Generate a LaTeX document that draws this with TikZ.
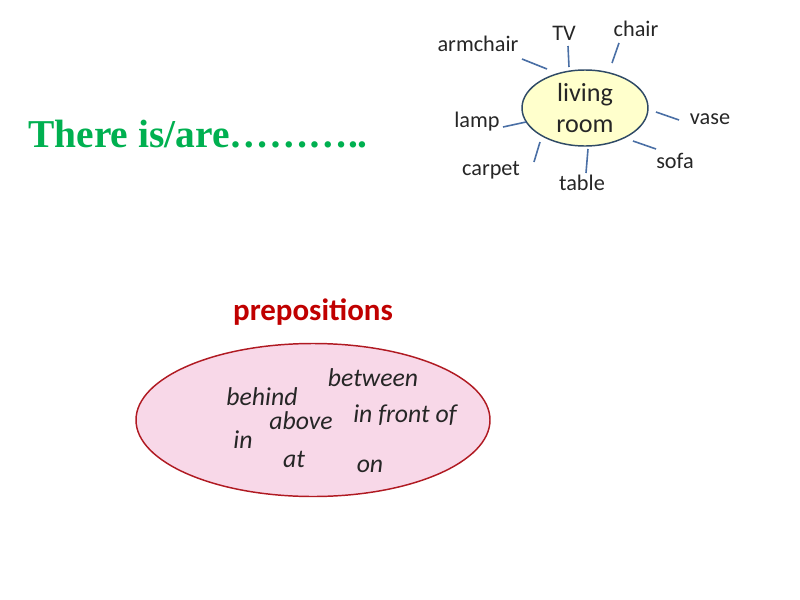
\documentclass[tikz,border=0pt]{standalone}
\usepackage{fontspec}
\setmainfont{Carlito}
\newfontfamily\timesf{Liberation Serif}
\usetikzlibrary{shapes.geometric}
\definecolor{titlegreen}{HTML}{00B050}
\definecolor{prepred}{HTML}{C00000}
\definecolor{spoke}{HTML}{4A6FA5}
\definecolor{lrfill}{HTML}{FFFFCC}
\definecolor{lrdraw}{HTML}{2F4A66}
\definecolor{pkfill}{HTML}{F8D8E8}
\definecolor{pkdraw}{HTML}{B01A22}
\definecolor{txt}{HTML}{262626}
\tikzset{
  lbl/.style={font=\fontsize{16.7}{18}\selectfont, text=txt, inner sep=0pt},
  prep/.style={font=\fontsize{19.3}{21}\selectfont\itshape, text=txt, inner sep=0pt},
  spokeline/.style={draw=spoke, line width=1.2pt},
}
\begin{document}
\begin{tikzpicture}[x=0.75pt,y=-0.75pt]
\useasboundingbox (0,0) rectangle (800,600);
% title
\node[anchor=west, inner sep=0pt, text=titlegreen, font=\fontsize{29.6}{31}\selectfont\timesf\bfseries] (title) at (28,134) {There is/are\dots\dots\dots..};
% living room
\node[ellipse, draw=lrdraw, fill=lrfill, line width=1.1pt, minimum width=94.5pt, minimum height=57pt, inner sep=0pt, align=center, font=\fontsize{19.6}{23.5}\selectfont, text=txt] (lr) at (585,108) {living\\room};
% labels
\node[lbl] (armchair) at (478,44) {armchair};
\node[lbl] (tv) at (564,33) {TV};
\node[lbl] (chair) at (636,29) {chair};
\node[lbl] (lamp) at (477,122) {lamp};
\node[lbl] (vase) at (710,119) {vase};
\node[lbl] (carpet) at (491,170) {carpet};
\node[lbl] (table) at (582,183) {table};
\node[lbl] (sofa) at (675,161) {sofa};
% spokes
\coordinate (a1) at (522,59); \coordinate (a2) at (547,69);
\coordinate (t1) at (568,46); \coordinate (t2) at (569,67);
\coordinate (c1) at (619,43); \coordinate (c2) at (612,63);
\coordinate (v1) at (679,120); \coordinate (v2) at (656,112);
\coordinate (s1) at (656,149); \coordinate (s2) at (633,141);
\coordinate (b1) at (586,173); \coordinate (b2) at (588,149);
\coordinate (p1) at (534,162); \coordinate (p2) at (540,142);
\coordinate (l1) at (503,127); \coordinate (l2) at (526,122);
\draw[spokeline] (a1) -- (a2);
\draw[spokeline] (t1) -- (t2);
\draw[spokeline] (c1) -- (c2);
\draw[spokeline] (v1) -- (v2);
\draw[spokeline] (s1) -- (s2);
\draw[spokeline] (b1) -- (b2);
\draw[spokeline] (p1) -- (p2);
\draw[spokeline] (l1) -- (l2);
% prepositions
\node[inner sep=0pt, text=prepred, font=\fontsize{23.2}{25}\selectfont\bfseries] (preptitle) at (313,312) {prepositions};
\node[ellipse, draw=pkdraw, fill=pkfill, line width=1.1pt, minimum width=265.5pt, minimum height=114.75pt, inner sep=0pt] (pk) at (313,420) {};
\node[prep] (between) at (373,378) {between};
\node[prep] (behind) at (262,397) {behind};
\node[prep] (above) at (301,421) {above};
\node[prep] (infront) at (405,415) {in front of};
\node[prep] (in) at (243,440) {in};
\node[prep] (at) at (294,459) {at};
\node[prep] (on) at (370,466) {on};
\end{tikzpicture}
\end{document}
